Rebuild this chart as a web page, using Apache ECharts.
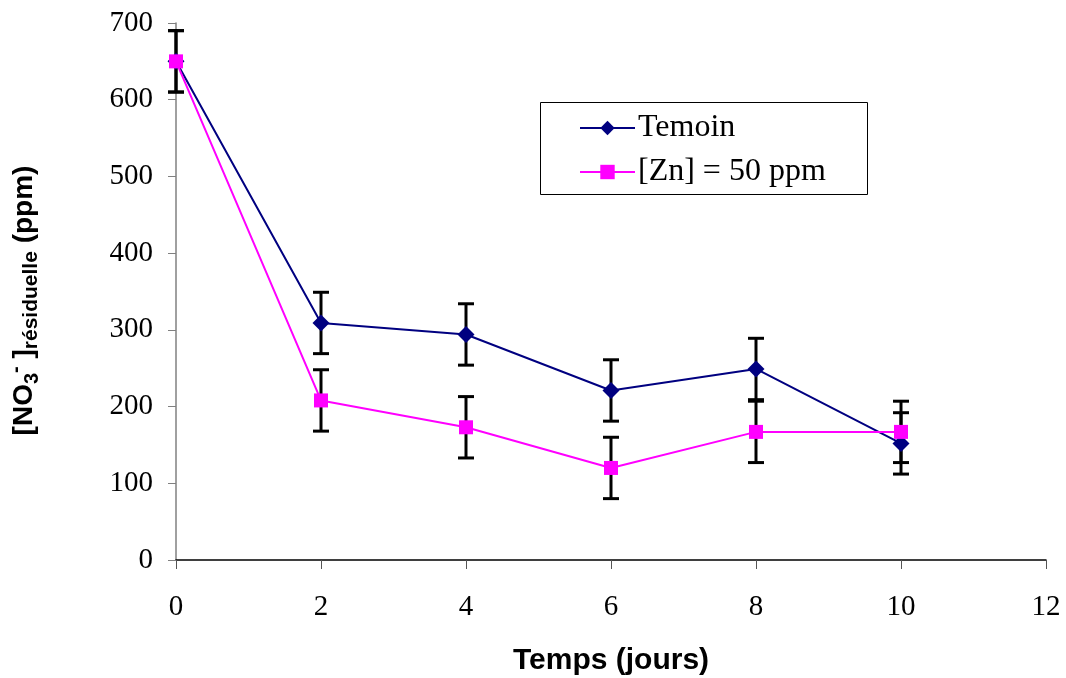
<!DOCTYPE html>
<html><head><meta charset="utf-8">
<script src="https://cdn.jsdelivr.net/npm/echarts@6/dist/echarts.min.js"></script>
<style>html,body{margin:0;padding:0;background:#fff}#c{width:1066px;height:678px}</style>
</head><body><div id="c"></div>
<script>
const days = [0, 2, 4, 6, 8, 10];
const temoin = [650, 309, 294, 221, 249, 152];
const temoinErr = [40, 40, 40, 40, 40, 40];
const zinc = [650, 208, 173, 120, 167, 167];
const zincErr = [40, 40, 40, 40, 40, 40];
const seriesNames = ['Temoin', '[Zn] = 50 ppm'];

const chart = echarts.init(document.getElementById('c'));
function errSeries(vals, errs, name) {
  return {
    type: 'custom', name: name + ' err', z: 1, silent: true,
    data: days.map((d, i) => [d, vals[i] - errs[i], vals[i] + errs[i]]),
    renderItem: function (params, api) {
      const lo = api.coord([api.value(0), api.value(1)]);
      const hi = api.coord([api.value(0), api.value(2)]);
      const w = 8;
      const st = { stroke: '#000', lineWidth: 3 };
      return { type: 'group', children: [
        { type: 'line', shape: { x1: lo[0], y1: lo[1], x2: hi[0], y2: hi[1] }, style: st },
        { type: 'line', shape: { x1: lo[0] - w, y1: lo[1], x2: lo[0] + w, y2: lo[1] }, style: st },
        { type: 'line', shape: { x1: hi[0] - w, y1: hi[1], x2: hi[0] + w, y2: hi[1] }, style: st }
      ]};
    }
  };
}
const serif = '"Liberation Serif", "Times New Roman", serif';
const sans = '"Liberation Sans", Arial, sans-serif';
chart.setOption({
  animation: false,
  backgroundColor: '#fff',
  grid: { left: 176, right: 20, top: 23, bottom: 118, containLabel: false, outerBoundsMode: 'none' },
  xAxis: {
    type: 'value', min: 0, max: 12, interval: 2,
    name: 'Temps (jours)', nameLocation: 'middle', nameGap: 86,
    nameTextStyle: { fontFamily: sans, fontWeight: 'bold', fontSize: 30, color: '#000' },
    axisLine: { lineStyle: { color: '#000', width: 1.5 } },
    axisTick: { show: true, length: 9, lineStyle: { color: '#555' } },
    axisLabel: { fontFamily: serif, fontSize: 29, color: '#000', margin: 33 },
    splitLine: { show: false }
  },
  yAxis: {
    type: 'value', min: 0, max: 700, interval: 100,
    name: '{b|[NO}{sub|3}{sup|-}{b| ]}{small|résiduelle}{b| (ppm)}',
    nameLocation: 'middle', nameRotate: 90, nameGap: 134,
    nameTextStyle: {
      padding: [0, 18, 0, 0],
      rich: {
        b: { fontFamily: sans, fontWeight: 'bold', fontSize: 28, color: '#000', lineHeight: 36, verticalAlign: 'middle' },
        sub: { fontFamily: sans, fontWeight: 'bold', fontSize: 20, color: '#000', lineHeight: 20, verticalAlign: 'bottom' },
        sup: { fontFamily: sans, fontWeight: 'bold', fontSize: 20, color: '#000', lineHeight: 20, verticalAlign: 'top' },
        small: { fontFamily: sans, fontWeight: 'bold', fontSize: 21, color: '#000', lineHeight: 21, verticalAlign: 'bottom' }
      }
    },
    axisLine: { show: true, lineStyle: { color: '#808080', width: 1.5 } },
    axisTick: { show: true, length: 8, lineStyle: { color: '#808080' } },
    axisLabel: { fontFamily: serif, fontSize: 29, color: '#000', margin: 23 },
    splitLine: { show: false }
  },
  graphic: [{ type: 'rect', left: 538, top: 100, shape: { width: 327, height: 92 }, style: { fill: 'none', stroke: '#000', lineWidth: 1 }, z: 10 }],
  legend: {
    orient: 'vertical', left: 574, top: 107, itemWidth: 55, itemHeight: 18, itemGap: 12,
    data: seriesNames,
    textStyle: { fontFamily: serif, fontSize: 32, color: '#000', padding: [0, 0, 0, -2] }
  },
  series: [
    errSeries(temoin, temoinErr, seriesNames[0]),
    errSeries(zinc, zincErr, seriesNames[1]),
    {
      type: 'line', name: seriesNames[0], z: 3,
      data: days.map((d, i) => [d, temoin[i]]),
      symbol: 'diamond', symbolSize: 17,
      lineStyle: { color: '#000080', width: 2 },
      itemStyle: { color: '#000080' }
    },
    {
      type: 'line', name: seriesNames[1], z: 4,
      data: days.map((d, i) => [d, zinc[i]]),
      symbol: 'rect', symbolSize: 14,
      lineStyle: { color: '#ff00ff', width: 2 },
      itemStyle: { color: '#ff00ff' }
    }
  ]
});
</script></body></html>
